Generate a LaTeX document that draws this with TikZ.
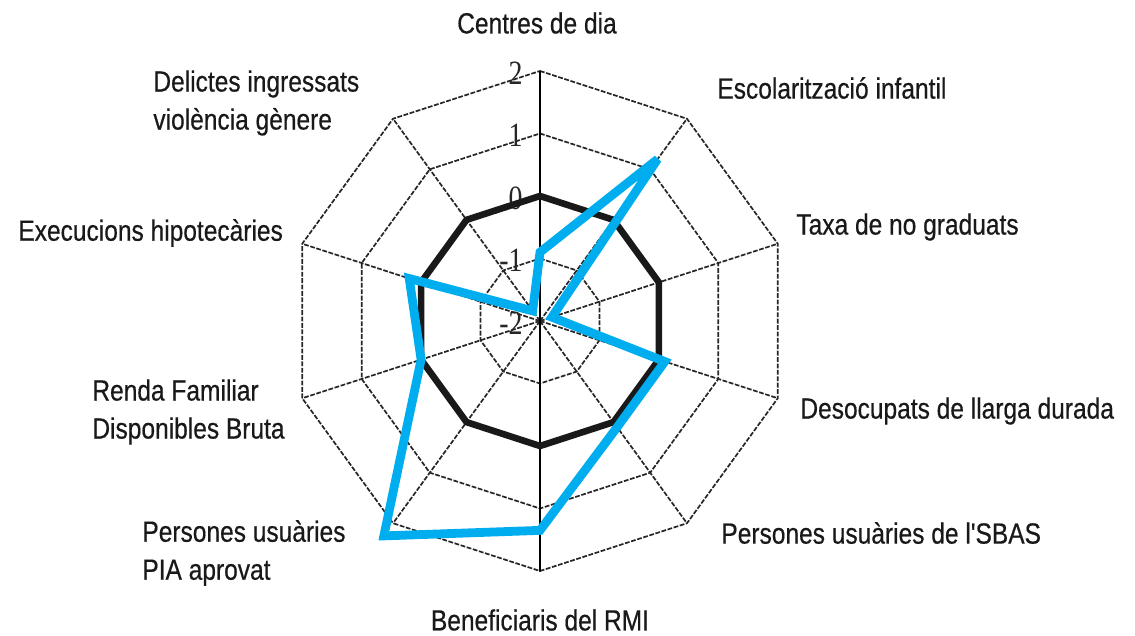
\documentclass[tikz,border=0pt]{standalone}
\usepackage{fontspec}
\newfontfamily\lblfont{Liberation Sans}[FakeStretch=0.84, FakeBold=0.5]
\newfontfamily\numfont{Liberation Serif}[FakeStretch=0.82]
\usepackage{xcolor}
\definecolor{radarblue}{RGB}{0,174,239}

\tikzset{
  gridline/.style={black!85, line width=0.85pt, dash pattern=on 2.4pt off 0.8pt},
  axislbl/.style={font=\lblfont\fontsize{14.6}{19}\selectfont, text=black!90, inner sep=0pt, align=left},
  ticklbl/.style={font=\numfont\fontsize{17}{17}\selectfont, text=black!85, anchor=east, inner sep=0pt},
}

\begin{document}
\begin{tikzpicture}[x=0.5pt,y=0.5pt]
\useasboundingbox (-540,-315) rectangle (595,321);

% one level step of the radar (px)
\def\st{62.5}

% Grid: decagons at -1, 1, 2
\foreach \lv in {1,3,4} {
  \pgfmathsetmacro\rr{\lv*\st}
  \draw[gridline] (90:\rr) \foreach \a in {54,18,...,-234} { -- (\a:\rr) } -- cycle;
}
% Spokes
\foreach \a in {54,18,...,-234}
  \draw[gridline] (0,0) -- (\a:250);
\draw[black, line width=0.8pt] (0,-250) -- (0,250);

% Scale labels
\foreach \lv/\t in {0/-2,1/-1,2/0,3/1,4/2}
  \node[ticklbl] (tick\lv) at (-17,\lv*\st-2) {\t};

% Level 0 (black)
\draw[black!90, line width=3.3pt, line join=miter] (90:125) \foreach \a in {54,18,...,-234} { -- (\a:125) } -- cycle;

% Data (blue)
\foreach \v [count=\i from 0] in {-0.9,1.2,-1.8,0.1,0.1,1.35,2.25,0,0.2,-1.8} {
  \pgfmathsetmacro\rr{(\v+2)*\st}
  \coordinate (d\i) at ({90-36*\i}:\rr);
}
\draw[radarblue, line width=4.4pt, line join=miter, miter limit=2]
  (d0) -- (d1) -- (d2) -- (d3) -- (d4) -- (d5) -- (d6) -- (d7) -- (d8) -- (d9) -- cycle;

% Axis labels
\node[axislbl] (centres) at (-3,298) {Centres de dia};
\node[axislbl, anchor=west] (escolar) at (177,233) {Escolarització infantil};
\node[axislbl, anchor=west] (taxa) at (256,94) {Taxa de no graduats};
\node[axislbl, anchor=west] (desocup) at (260,-90) {Desocupats de llarga durada};
\node[axislbl, anchor=west] (sbas) at (181,-212) {Persones usuàries de l'SBAS};
\node[axislbl] (rmi) at (0,-299) {Beneficiaris del RMI};
\node[axislbl, anchor=west] (pia) at (-398,-232) {Persones usuàries\\PIA aprovat};
\node[axislbl, anchor=west] (renda) at (-448,-91) {Renda Familiar\\Disponibles Bruta};
\node[axislbl, anchor=west] (execucions) at (-522,88) {Execucions hipotecàries};
\node[axislbl, anchor=west] (delictes) at (-387,218) {Delictes ingressats\\violència gènere};

\end{tikzpicture}
\end{document}
